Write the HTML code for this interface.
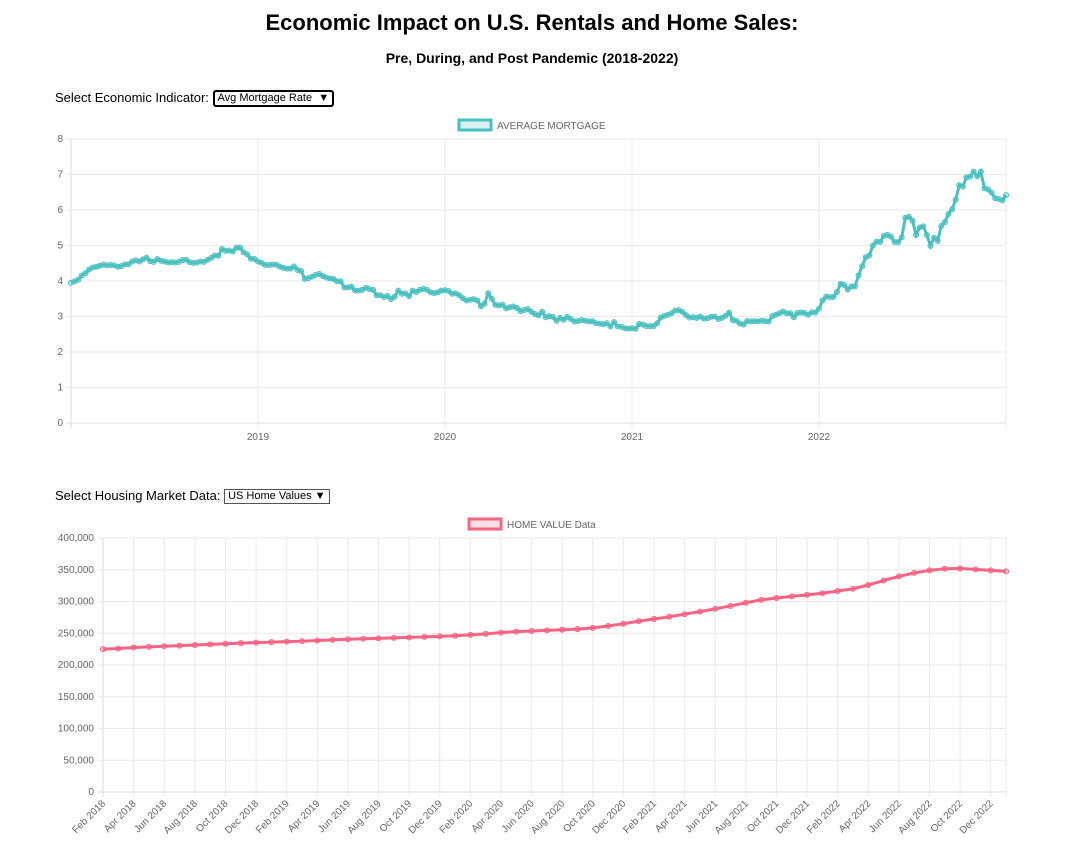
<!DOCTYPE html>
<html><head><meta charset="utf-8">
<style>
body{margin:0;background:#fff;font-family:"Liberation Sans",Arial,sans-serif;width:1084px;height:865px;overflow:hidden;position:relative}
h1{position:absolute;top:10px;left:0;width:1064px;text-align:center;font-size:22px;margin:0;font-weight:bold}
h2{position:absolute;top:50px;left:0;width:1064px;text-align:center;font-size:14px;margin:0;font-weight:bold}
.sel{position:absolute;font-size:13px;color:#000}
.box{display:inline-block;border:1px solid #000;font-size:11px;padding:0 3px;height:13px;line-height:13px;vertical-align:middle}
svg{position:absolute;left:0;top:0}
</style></head><body>
<h1>Economic Impact on U.S. Rentals and Home Sales:</h1>
<h2>Pre, During, and Post Pandemic (2018-2022)</h2>
<div class="sel" style="left:55px;top:90px">Select Economic Indicator: <span class="box" style="border-width:2px;border-radius:3px">Avg Mortgage Rate &nbsp;&#9660;</span></div>
<div class="sel" style="left:55px;top:488px">Select Housing Market Data: <span class="box" style="border-color:#555">US Home Values &#9660;</span></div>
<svg id="c" width="1084" height="865"></svg>
<script>
const mortgage=[3.95,3.99,4.04,4.15,4.22,4.32,4.38,4.40,4.43,4.46,4.44,4.45,4.44,4.40,4.42,4.47,4.47,4.55,4.58,4.55,4.61,4.66,4.56,4.54,4.62,4.57,4.55,4.52,4.53,4.52,4.54,4.59,4.60,4.53,4.51,4.52,4.55,4.54,4.60,4.65,4.72,4.71,4.90,4.85,4.86,4.83,4.94,4.94,4.81,4.75,4.63,4.62,4.55,
4.51,4.45,4.45,4.46,4.46,4.41,4.37,4.35,4.35,4.41,4.31,4.28,4.06,4.08,4.12,4.17,4.20,4.14,4.10,4.07,4.06,3.99,3.99,3.82,3.82,3.84,3.73,3.73,3.75,3.81,3.77,3.75,3.60,3.60,3.55,3.58,3.49,3.56,3.73,3.64,3.65,3.57,3.73,3.69,3.75,3.78,3.75,3.68,3.66,3.68,3.73,3.74,
3.72,3.64,3.65,3.60,3.51,3.45,3.47,3.49,3.45,3.29,3.36,3.65,3.50,3.33,3.31,3.33,3.23,3.26,3.28,3.24,3.15,3.18,3.21,3.13,3.07,3.03,3.13,2.98,3.01,2.99,2.88,2.96,2.91,2.99,2.93,2.86,2.87,2.90,2.88,2.86,2.87,2.81,2.80,2.78,2.81,2.72,2.84,2.72,2.71,2.67,2.66,2.67,
2.65,2.79,2.77,2.73,2.73,2.73,2.81,2.97,3.02,3.05,3.09,3.17,3.18,3.13,3.04,2.97,2.98,2.96,3.00,2.94,2.95,2.99,3.00,2.93,2.96,3.02,3.11,2.90,2.88,2.80,2.77,2.87,2.86,2.87,2.86,2.88,2.87,2.86,3.01,3.05,3.09,3.14,3.09,3.09,2.98,3.10,3.11,3.10,3.05,3.12,3.11,
3.22,3.45,3.56,3.55,3.55,3.69,3.92,3.89,3.76,3.85,3.85,4.16,4.42,4.67,4.72,5.00,5.11,5.10,5.27,5.30,5.25,5.10,5.09,5.23,5.78,5.81,5.70,5.30,5.51,5.54,5.30,4.99,5.22,5.13,5.55,5.66,5.89,6.02,6.29,6.70,6.66,6.92,6.94,7.08,6.95,7.08,6.61,6.58,6.49,6.33,6.31,6.27,6.42];
const yearTicks=["2019","2020","2021","2022"];
const mortgageYTicks=[0,1,2,3,4,5,6,7,8];
const months=["Jan","Feb","Mar","Apr","May","Jun","Jul","Aug","Sep","Oct","Nov","Dec"];
const homeCategories=[];for(let i=1;i<=60;i++){homeCategories.push(months[i%12]+" "+(2018+Math.floor(i/12)));}
const homeValues=[225000,226000,227500,228500,229500,230500,231500,232500,233500,234500,235200,
236000,236800,237500,238500,239500,240500,241300,242000,242800,243500,244300,245000,
246000,247500,249000,251000,252500,253500,254500,255500,256500,258500,261500,265000,
269000,272500,276000,280000,284000,288500,293000,298000,302500,305500,308000,310500,
313000,316500,320000,326000,333000,339500,345000,349000,351500,352000,350500,349000,
347500];
const homeYTicks=[0,50000,100000,150000,200000,250000,300000,350000,400000];

const svg=document.getElementById('c');const NS='http://www.w3.org/2000/svg';
function el(t,a,txt){const e=document.createElementNS(NS,t);for(const k in a)e.setAttribute(k,a[k]);if(txt!==undefined)e.textContent=txt;svg.appendChild(e);return e;}

// Chart 1
const L1=71,R1=1006,T1=139,B1=423,yMax1=8;
const y1=v=>B1-(v/yMax1)*(B1-T1);
const x1=i=>L1+i*(R1-L1)/(mortgage.length-1);
const yearX=k=>L1+(k+1)*(R1-L1)/5;
mortgageYTicks.forEach(v=>{
 let g=el('line',{x1:L1-5,x2:R1,y1:y1(v),y2:y1(v),stroke:v===0?'#ddd':'#ebebeb'});
 
 let t=el('text',{x:L1-8,y:y1(v)+3,'text-anchor':'end','font-size':10,fill:'#666'},v);
 
});
el('line',{x1:L1,x2:L1,y1:T1,y2:B1+5,stroke:'#ddd'});
yearTicks.forEach((lb,k)=>{
 const x=yearX(k);
 let g=el('line',{x1:x,x2:x,y1:T1,y2:B1+5,stroke:'#ebebeb'});
 
 let t=el('text',{x:x,y:B1+17,'text-anchor':'middle','font-size':10,fill:'#666'},lb);
 
});
el('line',{x1:R1,x2:R1,y1:T1,y2:B1+5,stroke:'#ebebeb'});
let lg1=el('rect',{x:459,y:120,width:32,height:10,fill:'rgba(75,192,192,0.2)',stroke:'#4bc0c0','stroke-width':3});

let lt1=el('text',{x:497,y:129,'font-size':10,fill:'#666'},'AVERAGE MORTGAGE');

let p1=el('polyline',{points:mortgage.map((v,i)=>x1(i)+','+y1(v)).join(' '),fill:'none',stroke:'#4bc0c0','stroke-width':3});

mortgage.forEach((v,i)=>{let c=el('circle',{cx:x1(i),cy:y1(v),r:2.5,fill:'rgba(75,192,192,0.3)',stroke:'#4bc0c0','stroke-width':1});
 });

// Chart 2
const L2=103,R2=1006,T2=538,B2=792,yMax2=400000;
const y2=v=>B2-(v/yMax2)*(B2-T2);
const x2=i=>L2+i*(R2-L2)/(homeCategories.length-1);
homeYTicks.forEach(v=>{
 let g=el('line',{x1:L2-5,x2:R2,y1:y2(v),y2:y2(v),stroke:v===0?'#ddd':'#ebebeb'});
 
 let t=el('text',{x:L2-9,y:y2(v)+3,'text-anchor':'end','font-size':10,fill:'#666'},v.toLocaleString('en-US'));
 
});
homeCategories.forEach((lb,i)=>{
 if(i%2)return;
 const x=x2(i);
 let g=el('line',{x1:x,x2:x,y1:T2,y2:B2+5,stroke:i===0?'#ddd':'#ebebeb'});
 
 let t=el('text',{x:x+3,y:B2+12,'text-anchor':'end','font-size':10,fill:'#666',transform:`rotate(-45 ${x+3} ${B2+12})`},lb);
 
});
el('line',{x1:R2,x2:R2,y1:T2,y2:B2+5,stroke:'#ebebeb'});
let lg2=el('rect',{x:469,y:519,width:32,height:10,fill:'rgba(255,99,132,0.2)',stroke:'#ff6384','stroke-width':3});

let lt2=el('text',{x:507,y:528,'font-size':10,fill:'#666'},'HOME VALUE Data');

let p2=el('polyline',{points:homeValues.map((v,i)=>x2(i)+','+y2(v)).join(' '),fill:'none',stroke:'#ff6384','stroke-width':3});

homeValues.forEach((v,i)=>{let c=el('circle',{cx:x2(i),cy:y2(v),r:2.5,fill:'rgba(255,99,132,0.3)',stroke:'#ff6384','stroke-width':1});
 });
</script>
</body></html>
